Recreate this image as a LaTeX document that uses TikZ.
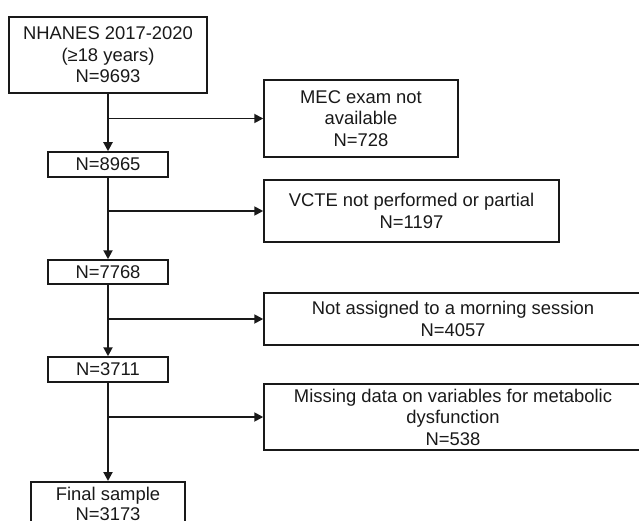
\documentclass[tikz,border=0pt]{standalone}
\usepackage{fontspec}
\setmainfont{Liberation Sans}
\usetikzlibrary{arrows.meta}
\begin{document}
\begin{tikzpicture}[x=1pt,y=-1pt,
  box/.style={draw=black!90, line width=1.5pt, align=center, inner sep=0pt,
    font=\fontsize{18.4}{21.5}\selectfont, text=black!90},
  flow/.style={draw=black!90, line width=2pt, -{Triangle[length=9pt,width=9pt]}},
  side/.style={draw=black!90, line width=1.8pt, -{Triangle[length=9pt,width=9pt]}}]
\useasboundingbox (0,0) rectangle (639,521);
\clip (0,0) rectangle (639,521);
\node[box, minimum width=198pt, minimum height=76pt] (n1) at (108,55) {NHANES 2017-2020\\(≥18 years)\\N=9693};
\node[box, minimum width=194pt, minimum height=77pt] (e1) at (361,118.5) {MEC exam not\\available\\N=728};
\node[box, minimum width=120pt, minimum height=25pt] (n2) at (108,164.5) {N=8965};
\node[box, minimum width=295pt, minimum height=62pt] (e2) at (411.5,211) {VCTE not performed or partial\\N=1197};
\node[box, minimum width=120pt, minimum height=24pt] (n3) at (108,272) {N=7768};
\node[box, minimum width=378pt, minimum height=52pt] (e3) at (453,319) {Not assigned to a morning session\\N=4057};
\node[box, minimum width=120pt, minimum height=25pt] (n4) at (108,369.5) {N=3711};
\node[box, minimum width=378pt, minimum height=66pt] (e4) at (453,417) {Missing data on variables for metabolic\\dysfunction\\N=538};
\node[box, anchor=north, minimum width=154pt, minimum height=44pt,
  font=\fontsize{18.4}{20}\selectfont] (n5) at (108,481) {Final sample\\N=3173};
\draw[flow] (n1.south) -- (n2.north);
\draw[flow] (n2.south) -- (n3.north);
\draw[flow] (n3.south) -- (n4.north);
\draw[flow] (n4.south) -- (n5.north);
\draw[side] (n1.south |- e1.west) -- (e1.west);
\draw[side] (n2.south |- e2.west) -- (e2.west);
\draw[side] (n3.south |- e3.west) -- (e3.west);
\draw[side] (n4.south |- e4.west) -- (e4.west);
\end{tikzpicture}
\end{document}
